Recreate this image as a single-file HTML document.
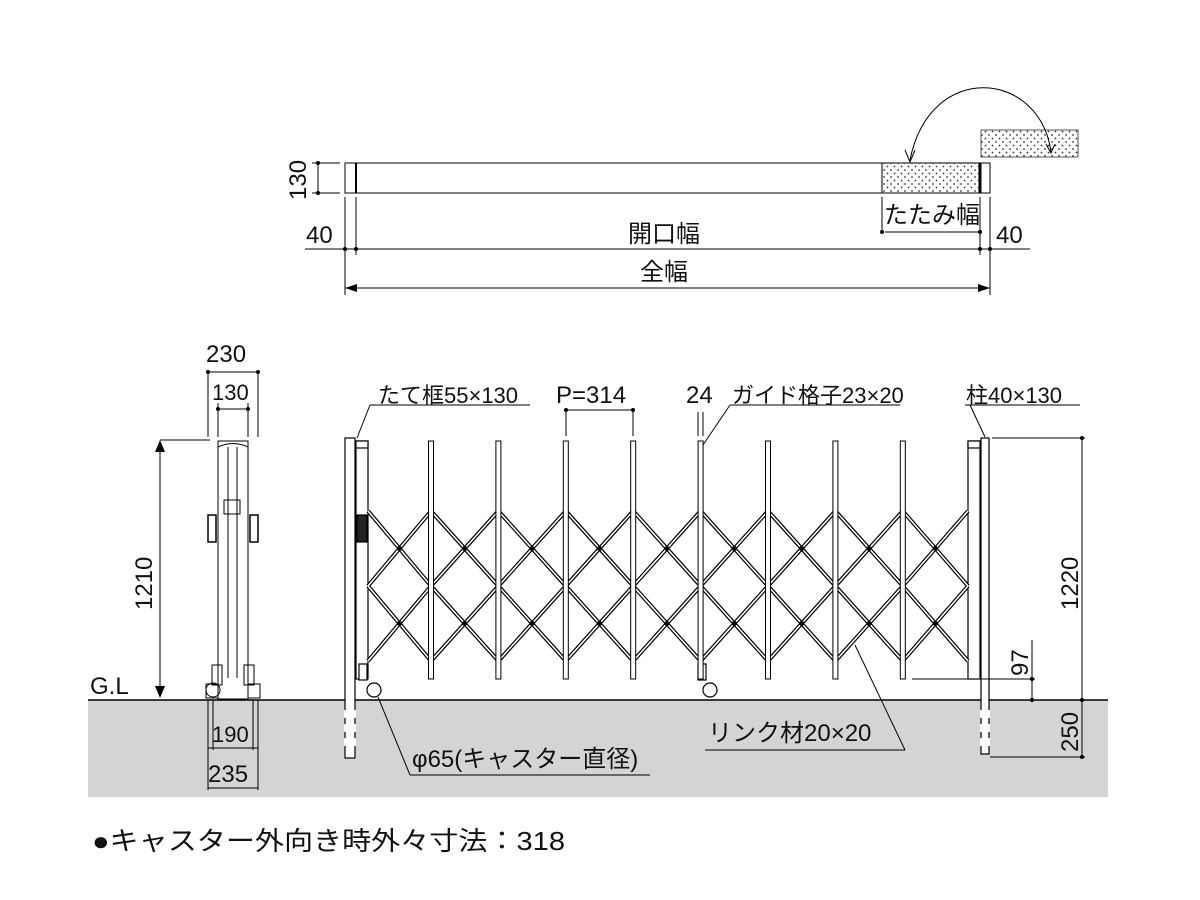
<!DOCTYPE html>
<html><head><meta charset="utf-8"><style>
body{margin:0;background:#fff}
svg{display:block}
text{font-family:"Liberation Sans","Noto Sans CJK JP",sans-serif;fill:#111}
</style></head><body>
<svg id="s" width="1200" height="900" viewBox="0 0 1200 900" xmlns="http://www.w3.org/2000/svg">
<defs>
<pattern id="dots" width="7" height="7" patternUnits="userSpaceOnUse"><circle cx="2" cy="2" r="0.9" fill="#333"/><circle cx="5.5" cy="5.5" r="0.9" fill="#333"/></pattern>
</defs>
<rect x="88" y="700" width="1020" height="97" fill="#d4d4d6"/>
<line x1="88" y1="700" x2="1108" y2="700" stroke="#000" stroke-width="1.5"/>

<g stroke="#000" fill="none" stroke-width="1">
<rect x="345" y="163" width="645" height="30" fill="#fff"/>
<line x1="356" y1="163" x2="356" y2="193" stroke-width="2"/>
<rect x="882" y="163" width="98" height="30" fill="url(#dots)"/>
<line x1="980" y1="163" x2="980" y2="193" stroke-width="3"/>
<rect x="981" y="130" width="97" height="27" fill="url(#dots)" stroke="#555"/>
<path d="M1051 152 C1040 70 930 60 910 160" />
<path d="M905 150 L910 162 L915 150"/>
<path d="M1046 144 L1051 153 L1055 144"/>
<line x1="318" y1="163" x2="318" y2="193"/>
<line x1="312" y1="163" x2="340" y2="163"/><line x1="312" y1="193" x2="340" y2="193"/>
<line x1="345" y1="197" x2="345" y2="295"/><line x1="356" y1="197" x2="356" y2="255"/>
<line x1="882" y1="197" x2="882" y2="232"/>
<line x1="980" y1="197" x2="980" y2="255"/><line x1="990" y1="197" x2="990" y2="295"/>
<line x1="885" y1="232" x2="980" y2="232"/>
<line x1="305" y1="249" x2="1030" y2="249"/>
<line x1="345" y1="288" x2="990" y2="288"/>
</g>
<g fill="#000">
<circle cx="318" cy="163" r="2"/><circle cx="318" cy="193" r="2"/>
<circle cx="345" cy="249" r="2"/><circle cx="356" cy="249" r="2"/>
<circle cx="980" cy="249" r="2"/><circle cx="990" cy="249" r="2"/>
<circle cx="882" cy="232" r="2"/><circle cx="980" cy="232" r="2"/>
<path d="M345 288 L357 284 L357 292Z"/><path d="M990 288 L978 284 L978 292Z"/>
</g>
<g font-size="24">
<text x="0" y="0" transform="translate(306,200) rotate(-90)">130</text>
<text x="306" y="243">40</text>
<text x="996" y="243">40</text>
<text x="628" y="242">開口幅</text>
<text x="640" y="280">全幅</text>
<text x="884" y="223">たたみ幅</text>
</g>

<g stroke="#000" fill="none" stroke-width="1">
<line x1="208" y1="372" x2="208" y2="437"/><line x1="258" y1="372" x2="258" y2="437"/>
<line x1="218" y1="403" x2="218" y2="437"/><line x1="248" y1="403" x2="248" y2="437"/>
<line x1="208" y1="372" x2="258" y2="372"/>
<line x1="218" y1="409" x2="248" y2="409"/>
<line x1="160" y1="440" x2="210" y2="440"/>
<line x1="160" y1="445" x2="160" y2="697"/>
<rect x="218" y="441" width="30" height="258" fill="#fff"/>
<line x1="228" y1="447" x2="228" y2="678"/><line x1="237" y1="447" x2="237" y2="678"/>
<path d="M218 447 Q233 440 248 447"/>
<rect x="208" y="515" width="8" height="27" stroke-width="1.5"/>
<rect x="250" y="515" width="8" height="27" stroke-width="1.5"/>
<rect x="224" y="500" width="16" height="14"/>
<rect x="212" y="665" width="10" height="20"/><rect x="244" y="665" width="10" height="20"/>
<circle cx="213" cy="690" r="7"/><rect x="206" y="684" width="12" height="14"/><rect x="248" y="684" width="12" height="14"/>
<line x1="208" y1="700" x2="208" y2="790"/><line x1="258" y1="700" x2="258" y2="790"/>
<line x1="213" y1="700" x2="213" y2="750"/><line x1="253" y1="700" x2="253" y2="750"/>
<line x1="208" y1="748" x2="258" y2="748"/><line x1="208" y1="788" x2="258" y2="788"/>
</g>
<g fill="#000"><path d="M160 440 L155 452 L165 452Z"/><path d="M160 698 L155 686 L165 686Z"/>
<circle cx="208" cy="372" r="2"/><circle cx="258" cy="372" r="2"/><circle cx="218" cy="409" r="2"/><circle cx="248" cy="409" r="2"/></g>
<g font-size="24">
<text x="206" y="362">230</text>
<text x="212" y="400" font-size="22">130</text>
<text x="0" y="0" transform="translate(152,610) rotate(-90)">1210</text>
<text x="90" y="694">G.L</text>
<text x="212" y="742" font-size="22">190</text>
<text x="208" y="782">235</text>
</g>

<g id="gate" stroke="#000" fill="#fff" stroke-width="1.2">
<rect x="345" y="438" width="10" height="320"/>
<line x1="345" y1="710" x2="345" y2="750" stroke="#fff" stroke-width="2" stroke-dasharray="8 6"/>
<line x1="355" y1="710" x2="355" y2="750" stroke="#fff" stroke-width="2" stroke-dasharray="8 6"/>
<rect x="356" y="441" width="12" height="238"/>
<rect x="356" y="441" width="12" height="7"/>
<rect x="357" y="515" width="10" height="27" fill="#222"/>
<rect x="359" y="664" width="8" height="16"/>
<circle cx="374" cy="690" r="7"/>
<line x1="378" y1="697" x2="410" y2="775" stroke-width="1"/>
<line x1="410" y1="775" x2="650" y2="775" stroke="#444" stroke-width="1.5"/>
<rect x="968" y="441" width="12" height="238"/>
<rect x="968" y="441" width="12" height="7"/>
<rect x="981" y="438" width="8" height="316"/>
<line x1="981" y1="710" x2="981" y2="750" stroke="#fff" stroke-width="2" stroke-dasharray="8 6"/>
<line x1="989" y1="710" x2="989" y2="750" stroke="#fff" stroke-width="2" stroke-dasharray="8 6"/>
<rect x="698" y="664" width="8" height="16"/>
<circle cx="710" cy="690" r="7"/>
</g>
<g id="lat"></g>
<g stroke="#000" fill="none" stroke-width="1">
<line x1="357" y1="438" x2="370" y2="405"/><line x1="370" y1="405" x2="530" y2="405"/>
<line x1="566" y1="408" x2="566" y2="436"/><line x1="633" y1="408" x2="633" y2="436"/><line x1="566" y1="410" x2="633" y2="410"/>
<line x1="698" y1="412" x2="698" y2="436"/><line x1="703" y1="412" x2="703" y2="436"/>
<line x1="703" y1="445" x2="730" y2="405"/><line x1="730" y1="405" x2="900" y2="405"/>
<line x1="985" y1="437" x2="970" y2="405"/><line x1="965" y1="405" x2="1080" y2="405"/>
<line x1="992" y1="438" x2="1085" y2="438"/>
<line x1="1082" y1="438" x2="1082" y2="757"/>
<line x1="990" y1="757" x2="1085" y2="757"/>
<line x1="990" y1="700" x2="1085" y2="700"/>
<line x1="912" y1="679" x2="1035" y2="679"/>
<line x1="1032" y1="640" x2="1032" y2="700"/>
<line x1="855" y1="645" x2="905" y2="750"/><line x1="905" y1="750" x2="705" y2="750"/>
</g>
<g fill="#000"><circle cx="1082" cy="438" r="2"/><circle cx="1082" cy="700" r="2"/><circle cx="1082" cy="757" r="2"/><circle cx="1032" cy="679" r="2"/><circle cx="1032" cy="700" r="2"/><circle cx="566" cy="410" r="2"/><circle cx="633" cy="410" r="2"/></g>
<g font-size="22">
<text x="378" y="403">たて框55×130</text>
<text x="556" y="403" font-size="24">P=314</text>
<text x="686" y="403" font-size="24">24</text>
<text x="732" y="403">ガイド格子23×20</text>
<text x="966" y="403">柱40×130</text>
<text x="0" y="0" transform="translate(1078,610) rotate(-90)" font-size="24">1220</text>
<text x="0" y="0" transform="translate(1028,676) rotate(-90)" font-size="24">97</text>
<text x="0" y="0" transform="translate(1078,752) rotate(-90)" font-size="24">250</text>
<text x="708" y="741" font-size="24">リンク材20×20</text>
<text x="412" y="767" font-size="24">φ65(キャスター直径)</text>
</g>
<text x="92" y="850" font-size="26" textLength="473" lengthAdjust="spacingAndGlyphs">●キャスター外向き時外々寸法：318</text>
</svg>
<script>
var ns="http://www.w3.org/2000/svg",g=document.getElementById("lat");
var xs=[368];for(var i=0;i<8;i++)xs.push(431+i*67.4);xs.push(968);
function L(x1,y1,x2,y2,w,c){var l=document.createElementNS(ns,"line");l.setAttribute("x1",x1);l.setAttribute("y1",y1);l.setAttribute("x2",x2);l.setAttribute("y2",y2);l.setAttribute("stroke",c);l.setAttribute("stroke-width",w);g.appendChild(l);}
var ys=[511,586,661];
[0,1].forEach(function(p){for(var r=0;r<2;r++)for(var i=0;i<xs.length-1;i++){var a=xs[i],b=xs[i+1];if(p==0){L(a,ys[r],b,ys[r+1],4,"#000");L(a,ys[r+1],b,ys[r],4,"#000");}else{L(a,ys[r],b,ys[r+1],1.6,"#fff");L(a,ys[r+1],b,ys[r],1.6,"#fff");}}});
for(var r=0;r<2;r++)for(var i=0;i<xs.length-1;i++){var c=document.createElementNS(ns,"circle");c.setAttribute("cx",(xs[i]+xs[i+1])/2);c.setAttribute("cy",(ys[r]+ys[r+1])/2);c.setAttribute("r",2.5);g.appendChild(c);}
for(var i=1;i<=8;i++){var x=xs[i];var rc=document.createElementNS(ns,"rect");rc.setAttribute("x",x-2.5);rc.setAttribute("y",441);rc.setAttribute("width",5);rc.setAttribute("height",238);rc.setAttribute("fill","#fff");rc.setAttribute("stroke","#000");g.appendChild(rc);}
</script>
</body></html>
